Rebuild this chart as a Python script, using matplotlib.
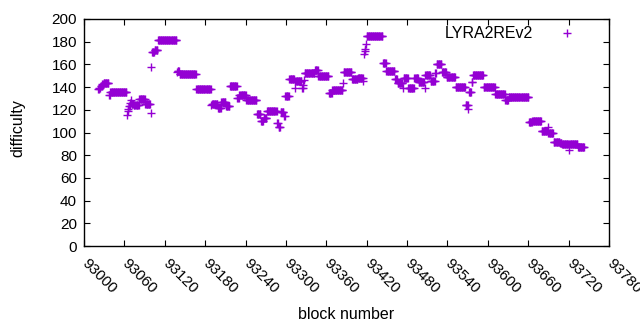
import numpy as np
import matplotlib
matplotlib.use("Agg")
import matplotlib.pyplot as plt
import matplotlib.transforms as mtransforms

plt.rcParams['font.family'] = ['Liberation Sans', 'DejaVu Sans']

# Difficulty per block, run-length encoded: each run starts at run_start
# and keeps its value until the next run starts (last run ends at last_block).
run_start = [93021, 93023, 93025, 93027, 93029, 93037, 93039, 93064, 93065, 93066,
             93067, 93069, 93070, 93071, 93074, 93082, 93091, 93099, 93100, 93101,
             93105, 93110, 93138, 93139, 93142, 93167, 93189, 93190, 93199, 93204,
             93211, 93217, 93228, 93231, 93241, 93257, 93263, 93267, 93272, 93287,
             93289, 93292, 93297, 93299, 93305, 93313, 93314, 93324, 93326, 93327,
             93328, 93343, 93348, 93364, 93369, 93385, 93386, 93398, 93407, 93415,
             93416, 93417, 93418, 93419, 93420, 93444, 93449, 93462, 93466, 93474,
             93475, 93482, 93491, 93497, 93506, 93507, 93515, 93522, 93524, 93532,
             93539, 93552, 93567, 93571, 93572, 93576, 93578, 93594, 93611, 93626,
             93631, 93661, 93666, 93680, 93689, 93690, 93698, 93707, 93710, 93721,
             93722, 93734]
run_value = [138, 139.5, 141, 142.5, 143.5, 133, 135.5, 115.5, 119, 121,
             123, 126, 128.5, 125.5, 124, 129.5, 125, 117, 157.5, 171,
             173, 181.5, 153, 154, 151.2, 138, 124, 125, 122, 127,
             123, 141, 130, 133, 128.5, 116, 110, 112.5, 119, 108,
             104.5, 118, 114.5, 132, 147.5, 139, 145, 139, 142, 146,
             152, 155, 149.6, 135, 137.3, 144, 153, 147, 148, 145,
             169.5, 171.5, 174, 177.7, 184.7, 161, 154, 147, 144, 139.5,
             148, 139.5, 148, 144.5, 139.5, 150.7, 145.6, 152, 160.4, 153.7,
             148.6, 139.8, 124.4, 120.4, 136, 144.8, 150.7, 139.8, 133.7, 128.7,
             131, 109, 110, 101, 104.6, 100, 92, 90.5, 89.5, 84.3,
             89.5, 86.8]
last_block = 93743

series_name = "LYRA2REv2"
x_ticks = [93000, 93060, 93120, 93180, 93240, 93300, 93360, 93420, 93480,
           93540, 93600, 93660, 93720, 93780]
y_ticks = [0, 20, 40, 60, 80, 100, 120, 140, 160, 180, 200]

# decode the runs into one point per block
run_end = run_start[1:] + [last_block + 1]
blocks = np.concatenate([np.arange(s, e) for s, e in zip(run_start, run_end)])
difficulty = np.concatenate([np.full(e - s, v) for s, e, v in zip(run_start, run_end, run_value)])

W, H = 640, 330
fig = plt.figure(figsize=(W / 100, H / 100), dpi=100)
ax = fig.add_axes([84 / W, 1 - 246 / H, (609 - 84) / W, (246 - 19) / H])

color = '#9400D3'
fs = 11.5      # labels / legend
fs_tick = 11
ax.plot(blocks, difficulty, linestyle='none', marker='+', markersize=5.5,
        markeredgewidth=1.0, color=color, label=series_name)

ax.set_xlim(93000, 93780)
ax.set_ylim(0, 200)
ax.set_xticks(x_ticks)
ax.set_yticks(y_ticks)
ax.set_xticklabels([str(t) for t in x_ticks], rotation=-45, ha='left', va='top',
                   rotation_mode='anchor', fontsize=fs_tick)
ax.set_yticklabels([str(t) for t in y_ticks], fontsize=fs_tick)
ax.tick_params(direction='in', length=4, width=0.8, top=True, right=True, pad=5)
ax.tick_params(axis='x', pad=7)
offset = mtransforms.ScaledTranslation(5 / 100, 0, fig.dpi_scale_trans)
for lab in ax.get_xticklabels():
    lab.set_transform(lab.get_transform() + offset)
for sp in ax.spines.values():
    sp.set_linewidth(1.0)

ax.set_xlabel('block number', fontsize=fs)
ax.set_ylabel('difficulty', fontsize=fs)
ax.xaxis.set_label_coords(0.5, -0.27)
ax.yaxis.set_label_coords(-0.112, 0.52)

fs_px = fs * 100 / 72
ax.legend(loc='upper right', frameon=False, markerfirst=False, fontsize=fs,
          handlelength=2.0, handletextpad=(34 - fs_px) / fs_px, borderpad=0.4,
          borderaxespad=0.0,
          bbox_to_anchor=((567 + fs_px + 0.4 * fs_px) / W, 1 - 20 / H),
          bbox_transform=fig.transFigure)

fig.savefig('out.png', dpi=100)
